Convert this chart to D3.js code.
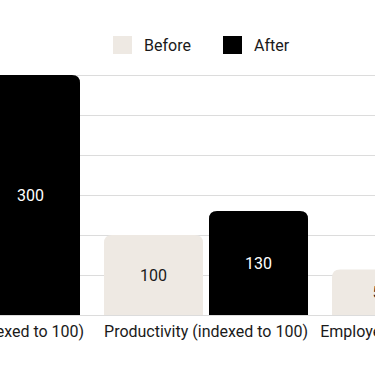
<!DOCTYPE html>
<html>
<head>
<meta charset="utf-8">
<script src="https://cdn.jsdelivr.net/npm/d3@7"></script>
<style>
  html, body { margin: 0; padding: 0; background: #fff; overflow: hidden; }
  svg { display: block; font-family: Roboto, "Noto Sans", sans-serif; }
</style>
</head>
<body>
<svg id="chart" width="375" height="366"></svg>
<script>
const categories = ["Performance (indexed to 100)", "Productivity (indexed to 100)", "Employee satisfaction score (%)"];
const seriesNames = ["Before", "After"];
const beforeValues = [100, 100, 57];
const afterValues = [300, 130, 85];
const yTicks = [0, 50, 100, 150, 200, 250, 300];
const colors = { Before: "#EEE9E3", After: "#000000" };

(function () {
const svg = d3.select("#chart");
const W = 375;
const baseline = 315, plotTop = 75;
const FS = 16;

const x0 = d3.scaleBand().domain(categories).range([-136, 548])
  .paddingInner(24 / 228).paddingOuter(12 / 228);
const x1 = d3.scaleBand().domain(seriesNames).range([0, x0.bandwidth()])
  .paddingInner(6 / 105).paddingOuter(0);
const y = d3.scaleLinear().domain([0, 300]).range([baseline, plotTop]);

// gridlines
svg.append("g").selectAll("line").data(yTicks).join("line")
  .attr("x1", 0).attr("x2", W)
  .attr("y1", d => y(d) + 0.5).attr("y2", d => y(d) + 0.5)
  .attr("stroke", "#dcdcdc").attr("stroke-width", 1);

const data = categories.map((c, i) => ({ cat: c, vals: [
  { s: "Before", v: beforeValues[i] }, { s: "After", v: afterValues[i] } ] }));

function topRounded(x, yTop, w, h, r) {
  r = Math.min(r, w / 2, h);
  return `M${x},${yTop + h}V${yTop + r}Q${x},${yTop} ${x + r},${yTop}H${x + w - r}Q${x + w},${yTop} ${x + w},${yTop + r}V${yTop + h}Z`;
}

const groups = svg.append("g").selectAll("g").data(data).join("g")
  .attr("transform", d => `translate(${x0(d.cat)},0)`);

groups.selectAll("path").data(d => d.vals).join("path")
  .attr("d", d => topRounded(x1(d.s), y(d.v), x1.bandwidth(), baseline - y(d.v), 8))
  .attr("fill", d => colors[d.s]);

groups.selectAll("text.val").data(d => d.vals).join("text")
  .attr("class", "val")
  .attr("x", d => x1(d.s) + x1.bandwidth() / 2)
  .attr("y", d => (y(d.v) + baseline) / 2)
  .attr("text-anchor", "middle").attr("dominant-baseline", "central")
  .attr("font-size", FS)
  .attr("fill", d => d.s === "After" ? "#ffffff" : "#1a1a1a")
  .text(d => d.v);

// x axis labels
const xAxis = d3.axisBottom(x0).tickSize(0).tickPadding(11);
const ax = svg.append("g").attr("transform", `translate(0,${baseline})`).call(xAxis);
ax.select(".domain").remove();
ax.selectAll("text").attr("font-size", FS).attr("fill", "#1a1a1a")
  .attr("font-family", "Roboto, 'Noto Sans', sans-serif");

// legend
const legend = svg.append("g");
const legendX = [113, 223];
seriesNames.forEach((s, i) => {
  legend.append("rect").attr("x", legendX[i]).attr("y", 36).attr("width", 19).attr("height", 18)
    .attr("fill", colors[s]);
  legend.append("text").attr("x", legendX[i] + 31).attr("y", 45)
    .attr("dominant-baseline", "central").attr("font-size", FS).attr("fill", "#1a1a1a")
    .text(s);
});
})();
</script>
</body>
</html>
